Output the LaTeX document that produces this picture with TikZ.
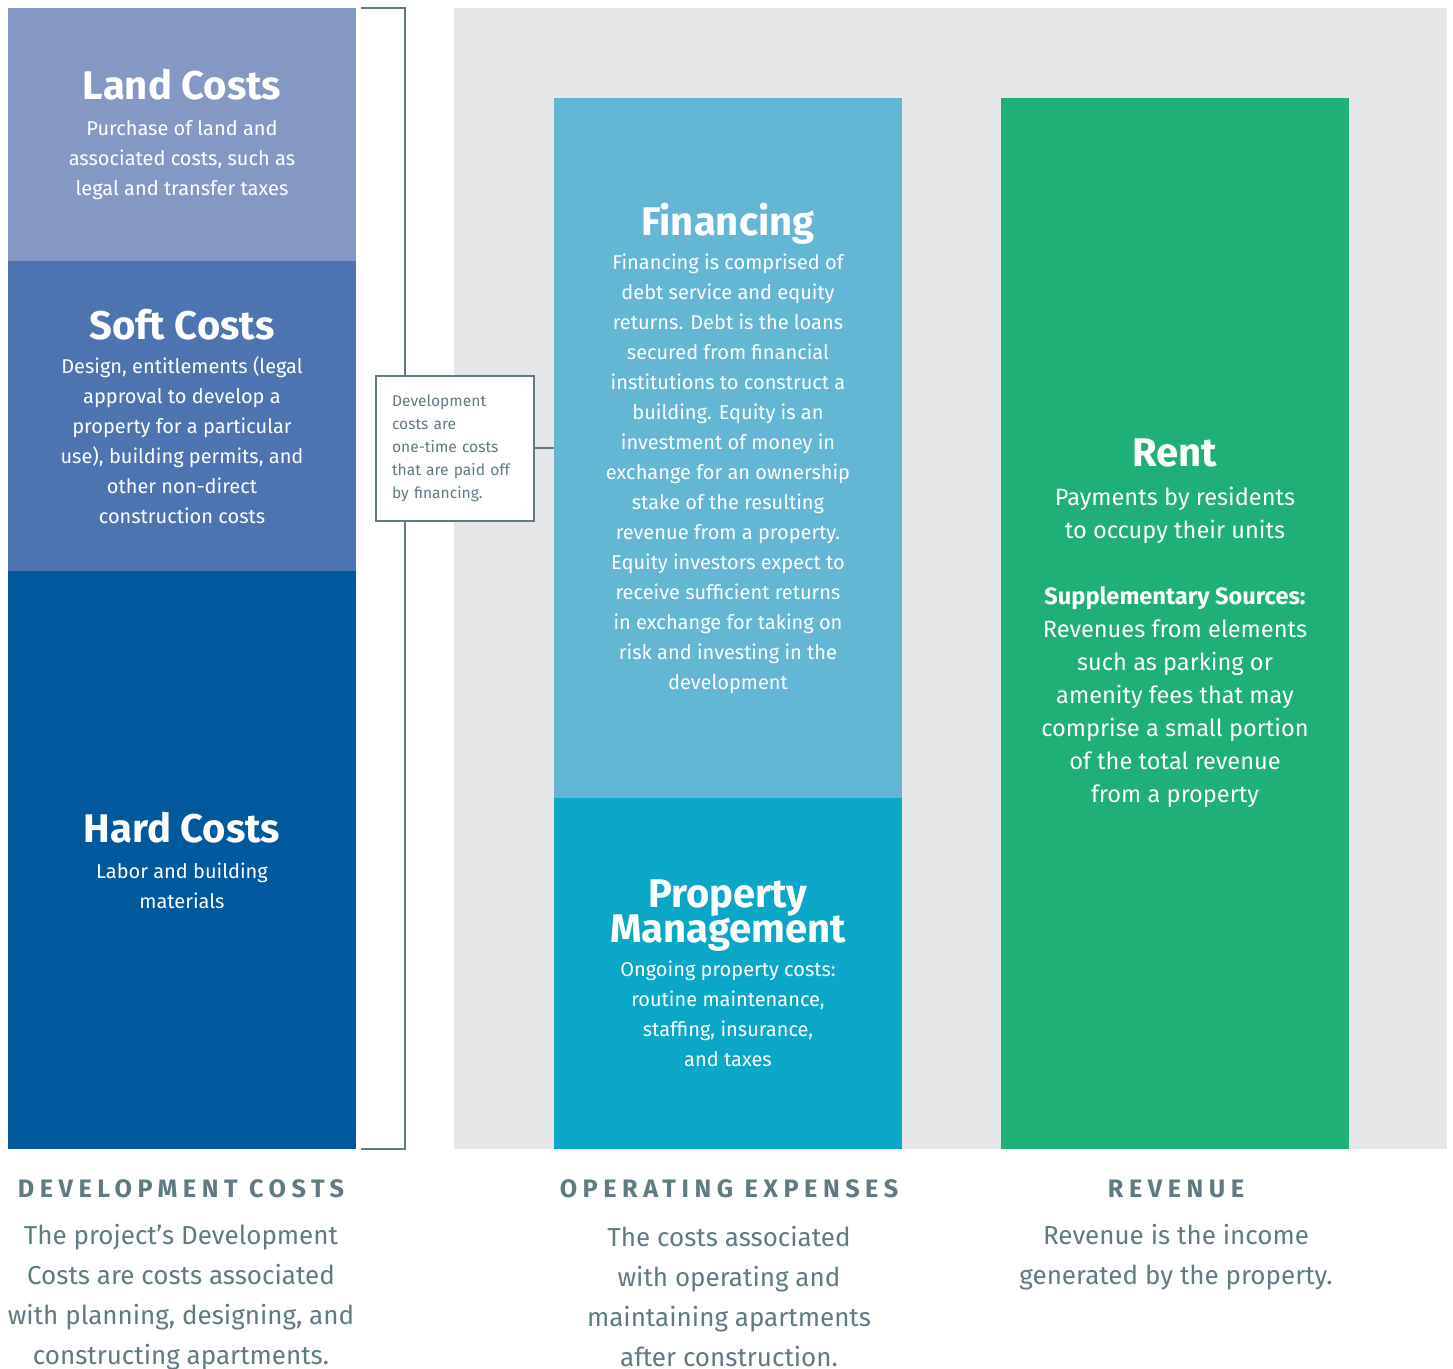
\documentclass[tikz,border=0pt]{standalone}
\usepackage{fontspec}
\setmainfont{Fira Sans}
\usepackage{xcolor}
\usetikzlibrary{positioning}
\usetikzlibrary{calc}

\definecolor{landc}{HTML}{8498C5}
\definecolor{softc}{HTML}{4C74B0}
\definecolor{hardc}{HTML}{00589D}
\definecolor{panelc}{HTML}{E6E7E9}
\definecolor{finc}{HTML}{63B7D4}
\definecolor{pmc}{HTML}{0BA7C9}
\definecolor{rentc}{HTML}{1EB076}
\definecolor{slate}{HTML}{5E7B81}

\newcommand{\blocktitle}[1]{{\fontsize{20}{21}\selectfont\bfseries #1}}

\tikzset{
  block/.style={inner sep=0pt, align=center, text=white, minimum width=174pt,
    font=\fontsize{10}{15}\selectfont},
  bracket/.style={draw=slate, line width=1pt},
  notebox/.style={draw=slate, line width=1pt, fill=white, text=slate, align=left,
    text width=63pt, inner xsep=8pt, minimum height=72.5pt,
    font=\fontsize{7.8}{11.5}\selectfont},
  colhead/.style={text=slate, font=\fontsize{12.6}{14}\selectfont\bfseries\addfontfeature{LetterSpace=22}},
  colbody/.style={text=slate, align=center, font=\fontsize{13}{20}\selectfont}
}

\begin{document}
\begin{tikzpicture}[x=0.5pt,y=-0.5pt]
  \useasboundingbox (0,0) rectangle (1453,1369);

  % operating panel
  \fill[panelc] (454,8) rectangle (1447,1149);

  % development costs
  \node[block, fill=landc, minimum height=126.5pt] (land) at (182,134.5)
    {\blocktitle{Land Costs}\\[3pt]
     Purchase of land and\\ associated costs, such as\\ legal and transfer taxes};
  \node[block, fill=softc, minimum height=155pt] (soft) at (182,416)
    {\blocktitle{Soft Costs}\\[2pt]
     Design, entitlements (legal\\ approval to develop a\\ property for a particular\\
     use), building permits, and\\ other non-direct\\ construction costs};
  \node[block, fill=hardc, minimum height=289pt] (hard) at (182,860)
    {\blocktitle{Hard Costs}\\[3pt]
     Labor and building\\ materials};

  % operating expenses
  \node[block, fill=finc, minimum height=350pt] (fin) at (728,448)
    {\blocktitle{Financing}\\[2pt]
     Financing is comprised of\\ debt service and equity\\ returns. Debt is the loans\\
     secured from financial\\ institutions to construct a\\ building. Equity is an\\
     investment of money in\\ exchange for an ownership\\ stake of the resulting\\
     revenue from a property.\\ Equity investors expect to\\ receive sufficient returns\\
     in exchange for taking on\\ risk and investing in the\\ development};
  \node[block, fill=pmc, minimum height=175.5pt] (pm) at (728,973.5)
    {\blocktitle{Property}\\[-2pt] \blocktitle{Management}\\[2pt]
     Ongoing property costs:\\ routine maintenance,\\ staffing, insurance,\\ and taxes};

  % revenue
  \node[block, fill=rentc, minimum height=525.5pt, font=\fontsize{11.8}{16.5}\selectfont]
    (rent) at (1175,623.5)
    {\blocktitle{Rent}\\[3pt]
     Payments by residents\\ to occupy their units\\[16.5pt]
     \textbf{Supplementary Sources:}\\ Revenues from elements\\ such as parking or\\
     amenity fees that may\\ comprise a small portion\\ of the total revenue\\ from a property};

  % bracket and note
  \draw[bracket] ([xshift=2.5pt]land.north east) -| ([xshift=24.5pt]hard.south east)
    -- ([xshift=2.5pt]hard.south east);
  \node[notebox] (note) at (455,448.5)
    {Development\\ costs are\\ one-time costs\\ that are paid off\\ by financing.};
  \draw[bracket] (note.east) -- (fin.west |- note.east);

  % column captions
  \node[colhead] (devhead) at (181,1189) {DEVELOPMENT COSTS};
  \node[colhead] (ophead) at (729,1189) {OPERATING EXPENSES};
  \node[colhead] (revhead) at (1176,1189) {REVENUE};
  \node[colbody] (devtext) at (181,1297)
    {The project’s Development\\ Costs are costs associated\\ with planning, designing, and\\ constructing apartments.};
  \node[colbody] (optext) at (729,1297)
    {The costs associated\\ with operating and\\ maintaining apartments\\ after construction.};
  \node[colbody] (revtext) at (1176,1257)
    {Revenue is the income\\ generated by the property.};
\end{tikzpicture}
\end{document}
